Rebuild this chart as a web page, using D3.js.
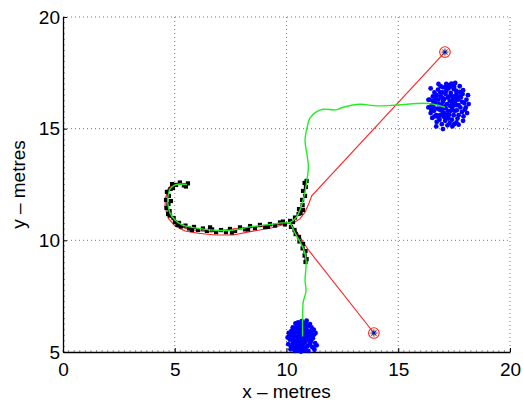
<!DOCTYPE html>
<html>
<head>
<meta charset="utf-8">
<script src="https://cdn.jsdelivr.net/npm/d3@7"></script>
<style>
  body { margin: 0; background: #fff; }
  text { font-family: "Liberation Sans", Arial, Helvetica, sans-serif; }
</style>
</head>
<body>
<div id="data-container"></div>
<script>
// axis ticks
const xTicks = [0, 5, 10, 15, 20];
const yTicks = [5, 10, 15, 20];

// anchors (red circle markers)
const anchors = [[17.09, 18.43], [13.91, 5.85]];

// red paths: anchor -> junction -> hook
const redOuter = [[17.09, 18.43], [11.13, 11.99], [11.01, 11.67], [10.83, 11.26], [10.60, 10.96],
  [10.34, 10.80], [9.93, 10.72], [9.26, 10.54], [8.37, 10.39], [7.62, 10.24], [6.80, 10.24],
  [6.05, 10.32], [5.46, 10.42], [5.01, 10.64], [4.71, 10.99], [4.56, 11.51], [4.60, 11.95],
  [4.70, 12.30], [4.88, 12.48], [5.15, 12.57], [5.50, 12.53]];
const redInner = [[13.91, 5.85], [11.05, 9.48], [10.83, 9.79], [10.47, 10.37], [10.16, 10.78],
  [10.01, 10.76], [9.26, 10.64], [8.37, 10.58], [7.48, 10.49], [6.65, 10.38], [6.05, 10.43],
  [5.46, 10.54], [5.09, 10.76], [4.79, 11.06], [4.67, 11.51], [4.67, 12.03], [4.79, 12.40],
  [5.01, 12.52], [5.32, 12.55]];

// black markers (observed positions)
const markers = [[5.59, 12.55], [5.41, 12.46], [5.23, 12.59], [5.06, 12.48], [4.88, 12.52],
  [4.81, 12.30], [4.65, 12.17], [4.74, 11.99], [4.61, 11.81], [4.72, 11.63], [4.63, 11.45],
  [4.77, 11.31], [4.79, 11.11], [4.95, 11.00], [5.01, 10.82], [5.19, 10.78], [5.28, 10.62],
  [5.48, 10.66], [5.64, 10.53], [5.86, 10.60], [6.04, 10.46], [6.26, 10.53], [6.44, 10.42],
  [6.67, 10.49], [6.85, 10.37], [7.07, 10.46], [7.29, 10.37], [7.47, 10.51], [7.70, 10.42],
  [7.92, 10.58], [8.14, 10.49], [8.37, 10.64], [8.59, 10.55], [8.81, 10.69], [9.04, 10.60],
  [9.26, 10.73], [9.49, 10.66], [9.71, 10.80], [9.93, 10.71], [10.16, 10.87], [10.29, 10.82],
  [10.38, 11.02], [10.54, 11.18], [10.56, 11.40], [10.72, 11.58], [10.70, 11.81], [10.83, 11.99],
  [10.74, 12.21], [10.87, 12.39], [10.81, 12.57], [10.90, 12.66],
  [10.20, 10.60], [10.36, 10.46], [10.41, 10.28], [10.56, 10.15], [10.58, 9.95], [10.74, 9.84],
  [10.72, 9.64], [10.85, 9.52], [10.81, 9.32], [10.90, 9.16], [10.85, 9.03],
  [5.50, 12.41], [4.92, 12.34], [4.83, 11.76], [4.70, 11.18], [5.12, 10.69], [5.77, 10.46],
  [6.58, 10.58], [7.56, 10.35], [8.28, 10.49], [9.17, 10.60], [9.84, 10.84], [10.63, 11.22],
  [10.74, 11.36]];

// green estimated tracks
const greenMain = [[5.55, 12.50], [5.23, 12.52], [4.97, 12.46], [4.79, 12.30], [4.70, 11.99],
  [4.70, 11.58], [4.79, 11.22], [5.01, 10.91], [5.32, 10.69], [5.77, 10.58], [6.35, 10.49],
  [6.94, 10.44], [7.61, 10.46], [8.37, 10.60], [9.26, 10.71], [9.84, 10.78], [10.16, 10.80],
  [10.45, 11.05], [10.65, 11.49], [10.81, 12.08], [10.90, 12.61], [10.98, 13.30], [10.93, 13.75],
  [10.83, 14.49], [10.90, 14.94], [11.05, 15.47], [11.35, 15.76], [11.65, 15.87], [12.17, 15.84],
  [12.54, 15.96], [13.29, 16.09], [14.04, 16.02], [14.93, 16.06], [16.12, 16.14], [16.55, 16.10],
  [17.09, 15.96]];
const greenLower = [[10.16, 10.80], [10.30, 10.50], [10.45, 10.20], [10.60, 9.94], [10.78, 9.57],
  [10.88, 9.05], [10.83, 8.22], [10.87, 7.70], [10.75, 7.25], [10.72, 6.58], [10.72, 5.69]];

// blue particle clouds
const cloudTop = [[17.18, 16.10], [17.30, 16.25], [17.05, 16.32], [16.92, 16.05], [17.41, 15.95],
  [17.22, 15.80], [16.98, 15.78], [17.55, 16.22], [17.12, 16.55], [16.80, 16.30], [17.62, 15.82],
  [17.35, 16.60], [16.75, 15.90], [17.48, 15.60], [17.02, 15.55], [17.70, 16.05], [16.88, 16.62],
  [17.25, 16.80], [16.65, 16.15], [17.80, 16.40], [17.58, 16.70], [17.10, 15.35], [16.70, 15.60],
  [17.85, 15.75], [17.40, 15.40], [16.55, 16.45], [17.95, 16.15], [17.00, 16.85], [17.65, 15.45],
  [16.60, 15.80], [17.75, 16.65], [16.85, 15.40], [17.30, 15.25], [17.50, 16.88], [16.78, 16.75],
  [17.92, 15.55], [16.50, 16.05], [17.15, 17.00], [17.60, 15.28], [16.95, 15.20], [18.02, 15.95],
  [17.38, 17.02], [16.62, 16.62], [17.88, 16.55], [17.20, 15.15], [16.45, 15.70], [17.70, 15.18],
  [16.72, 15.30], [18.05, 16.30], [17.45, 16.45], [17.08, 16.00], [16.90, 16.45], [17.52, 16.05],
  [17.28, 15.62], [16.82, 16.10], [17.68, 16.30], [17.15, 16.70], [16.95, 15.95], [17.40, 16.15],
  [17.00, 16.20], [17.60, 16.55], [16.68, 16.35], [17.35, 15.80], [16.88, 15.62], [17.78, 15.95],
  [17.25, 15.45], [17.05, 15.70], [17.48, 16.78], [16.58, 15.95], [17.90, 15.35], [16.40, 16.30],
  [18.08, 15.70], [17.55, 17.05], [16.80, 17.00], [17.00, 14.98], [17.42, 15.10], [16.52, 15.48],
  [18.12, 16.50], [16.45, 16.80], [17.75, 16.90], [16.35, 15.95], [16.35, 16.29],
  [17.22, 16.40], [16.98, 16.62], [17.45, 16.30], [17.62, 16.05], [16.85, 15.85], [17.12, 15.92],
  [17.32, 16.02], [17.52, 15.80], [16.72, 16.50], [17.85, 16.20], [17.40, 16.90], [16.90, 16.90],
  [17.70, 15.60], [17.08, 15.50], [16.62, 15.55], [17.98, 15.85], [17.25, 16.95], [16.55, 16.25],
  [17.18, 15.62], [17.90, 16.72], [16.70, 15.10], [17.50, 15.20], [16.98, 16.38], [17.30, 16.45],
  [17.75, 16.45], [16.80, 15.50], [17.58, 16.40], [17.12, 16.85], [16.48, 15.85], [18.15, 16.10]];
const cloudBottom = [[10.70, 5.65], [10.82, 5.80], [10.58, 5.78], [10.50, 5.55], [10.88, 5.50],
  [10.72, 5.35], [10.60, 5.95], [10.90, 6.00], [10.40, 5.70], [11.00, 5.70], [10.75, 6.15],
  [10.48, 5.30], [10.95, 5.28], [10.35, 5.95], [11.10, 5.90], [10.62, 6.25], [10.85, 6.30],
  [10.30, 5.45], [11.08, 5.45], [10.55, 5.10], [10.80, 5.08], [10.25, 5.75], [11.18, 5.62],
  [10.45, 6.15], [10.98, 6.18], [10.68, 6.38], [10.20, 5.25], [11.20, 5.20], [10.38, 5.05],
  [10.98, 5.05], [10.15, 5.55], [11.28, 5.40], [10.52, 6.32], [10.28, 6.10], [11.12, 6.10],
  [10.65, 5.02], [10.10, 5.85], [11.30, 5.85], [10.78, 5.95], [10.66, 5.48], [10.92, 5.65],
  [10.46, 5.88], [10.56, 5.40], [10.84, 5.15], [10.34, 5.22], [11.05, 5.35], [10.74, 5.72],
  [10.62, 5.60], [10.88, 5.88], [10.42, 5.48], [10.70, 6.05], [10.30, 5.60], [11.15, 5.75],
  [10.58, 6.08], [10.95, 5.80], [10.50, 5.18], [10.22, 5.95], [11.22, 6.00], [10.08, 5.35],
  [11.35, 5.30], [10.40, 6.28], [10.90, 6.40], [10.72, 5.25], [10.18, 5.12], [11.25, 5.10],
  [10.60, 5.32], [10.05, 5.65], [10.82, 5.42], [10.48, 6.00], [10.96, 5.55],
  [10.64, 5.88], [10.78, 5.55], [10.52, 5.68], [10.86, 6.12], [10.40, 5.38], [11.02, 5.92],
  [10.68, 5.15], [10.30, 5.82], [11.12, 5.55], [10.56, 6.20], [10.92, 5.25], [10.44, 6.05],
  [11.05, 6.25], [10.26, 5.35], [10.76, 6.25], [10.12, 5.70], [11.24, 5.78], [10.60, 5.05],
  [10.85, 5.68], [10.36, 5.10], [11.15, 5.22], [10.50, 5.45], [10.70, 5.85], [10.94, 5.95]];

const svgWidth = 523, svgHeight = 404;
const margin = {top: 17, right: 13, bottom: 52, left: 63},
      width = svgWidth - margin.left - margin.right,
      height = svgHeight - margin.top - margin.bottom;

const svg = d3.select("#data-container").append("svg")
  .attr("width", svgWidth).attr("height", svgHeight);

const x = d3.scaleLinear().domain([0, 20]).range([0, width]);
const y = d3.scaleLinear().domain([5, 20]).range([height, 0]);

const g = svg.append("g").attr("transform", "translate(" + margin.left + "," + margin.top + ")");

// dotted grid
g.selectAll(".gx").data(xTicks.slice(1)).enter().append("line")
  .attr("x1", d => x(d)).attr("x2", d => x(d)).attr("y1", 0).attr("y2", height)
  .attr("stroke", "#777").attr("stroke-width", 1).attr("stroke-dasharray", "1,3");
g.selectAll(".gy").data(yTicks.slice(1)).enter().append("line")
  .attr("y1", d => y(d)).attr("y2", d => y(d)).attr("x1", 0).attr("x2", width)
  .attr("stroke", "#777").attr("stroke-width", 1).attr("stroke-dasharray", "1,3");

// minor ticks
const minorX = d3.range(0, 20.01, 0.25), minorY = d3.range(5, 20.01, 0.25);
g.selectAll(".mx").data(minorX).enter().append("line")
  .attr("x1", d => x(d)).attr("x2", d => x(d)).attr("y1", height).attr("y2", height - 2)
  .attr("stroke", "#555").attr("stroke-width", 0.6);
g.selectAll(".my").data(minorY).enter().append("line")
  .attr("y1", d => y(d)).attr("y2", d => y(d)).attr("x1", 0).attr("x2", 2)
  .attr("stroke", "#555").attr("stroke-width", 0.6);

// axes
const xAxis = g.append("g").attr("transform", "translate(0," + height + ")")
  .call(d3.axisBottom(x).tickValues(xTicks).tickSizeInner(-4).tickSizeOuter(0).tickPadding(11));
const yAxis = g.append("g")
  .call(d3.axisLeft(y).tickValues(yTicks).tickSizeInner(-4).tickSizeOuter(0).tickPadding(3));
[xAxis, yAxis].forEach(a => {
  a.select(".domain").attr("stroke", "#000").attr("stroke-width", 1.3);
  a.selectAll(".tick line").attr("stroke", "#000");
  a.selectAll("text").attr("font-size", 19).attr("fill", "#000")
    .attr("font-family", "'Liberation Sans', Arial, Helvetica, sans-serif");
});

const line = d3.line().x(d => x(d[0])).y(d => y(d[1]));
const smooth = d3.line().x(d => x(d[0])).y(d => y(d[1])).curve(d3.curveCatmullRom.alpha(0.5));

// blue clouds
g.selectAll(".cloud").data(cloudTop.concat(cloudBottom)).enter().append("circle")
  .attr("cx", d => x(d[0])).attr("cy", d => y(d[1])).attr("r", 2.4)
  .attr("fill", "#0000ff");

// red tracks
g.append("path").datum(redOuter).attr("d", line).attr("fill", "none")
  .attr("stroke", "#ff2020").attr("stroke-width", 1.1);
g.append("path").datum(redInner).attr("d", line).attr("fill", "none")
  .attr("stroke", "#ff2020").attr("stroke-width", 1.1);

// black observation markers
g.selectAll(".obs").data(markers).enter().append("rect")
  .attr("x", d => x(d[0]) - 2.1).attr("y", d => y(d[1]) - 2.1)
  .attr("width", 4.2).attr("height", 4.2).attr("fill", "#000");

// green tracks
[greenMain, greenLower].forEach(t => {
  g.append("path").datum(t).attr("d", smooth).attr("fill", "none")
    .attr("stroke", "#22ee22").attr("stroke-width", 1.4);
});

// anchor markers
const anc = g.selectAll(".anchor").data(anchors).enter().append("g")
  .attr("transform", d => "translate(" + x(d[0]) + "," + y(d[1]) + ")");
anc.append("circle").attr("r", 5.3).attr("fill", "none").attr("stroke", "#ff2020").attr("stroke-width", 1.1);
[0, 45, 90, 135].forEach(a => {
  anc.append("line").attr("x1", -3.6).attr("x2", 3.6).attr("y1", 0).attr("y2", 0)
    .attr("transform", "rotate(" + a + ")").attr("stroke", "#333").attr("stroke-width", 1);
});
anc.append("circle").attr("r", 1.4).attr("fill", "#0000ff");

// axis labels
svg.append("text").attr("x", margin.left + width / 2).attr("y", 398)
  .attr("text-anchor", "middle").attr("font-size", 19).text("x – metres");
svg.append("text").attr("transform", "translate(25," + (margin.top + height / 2) + ") rotate(-90)")
  .attr("text-anchor", "middle").attr("font-size", 19).text("y – metres");
</script>
</body>
</html>
